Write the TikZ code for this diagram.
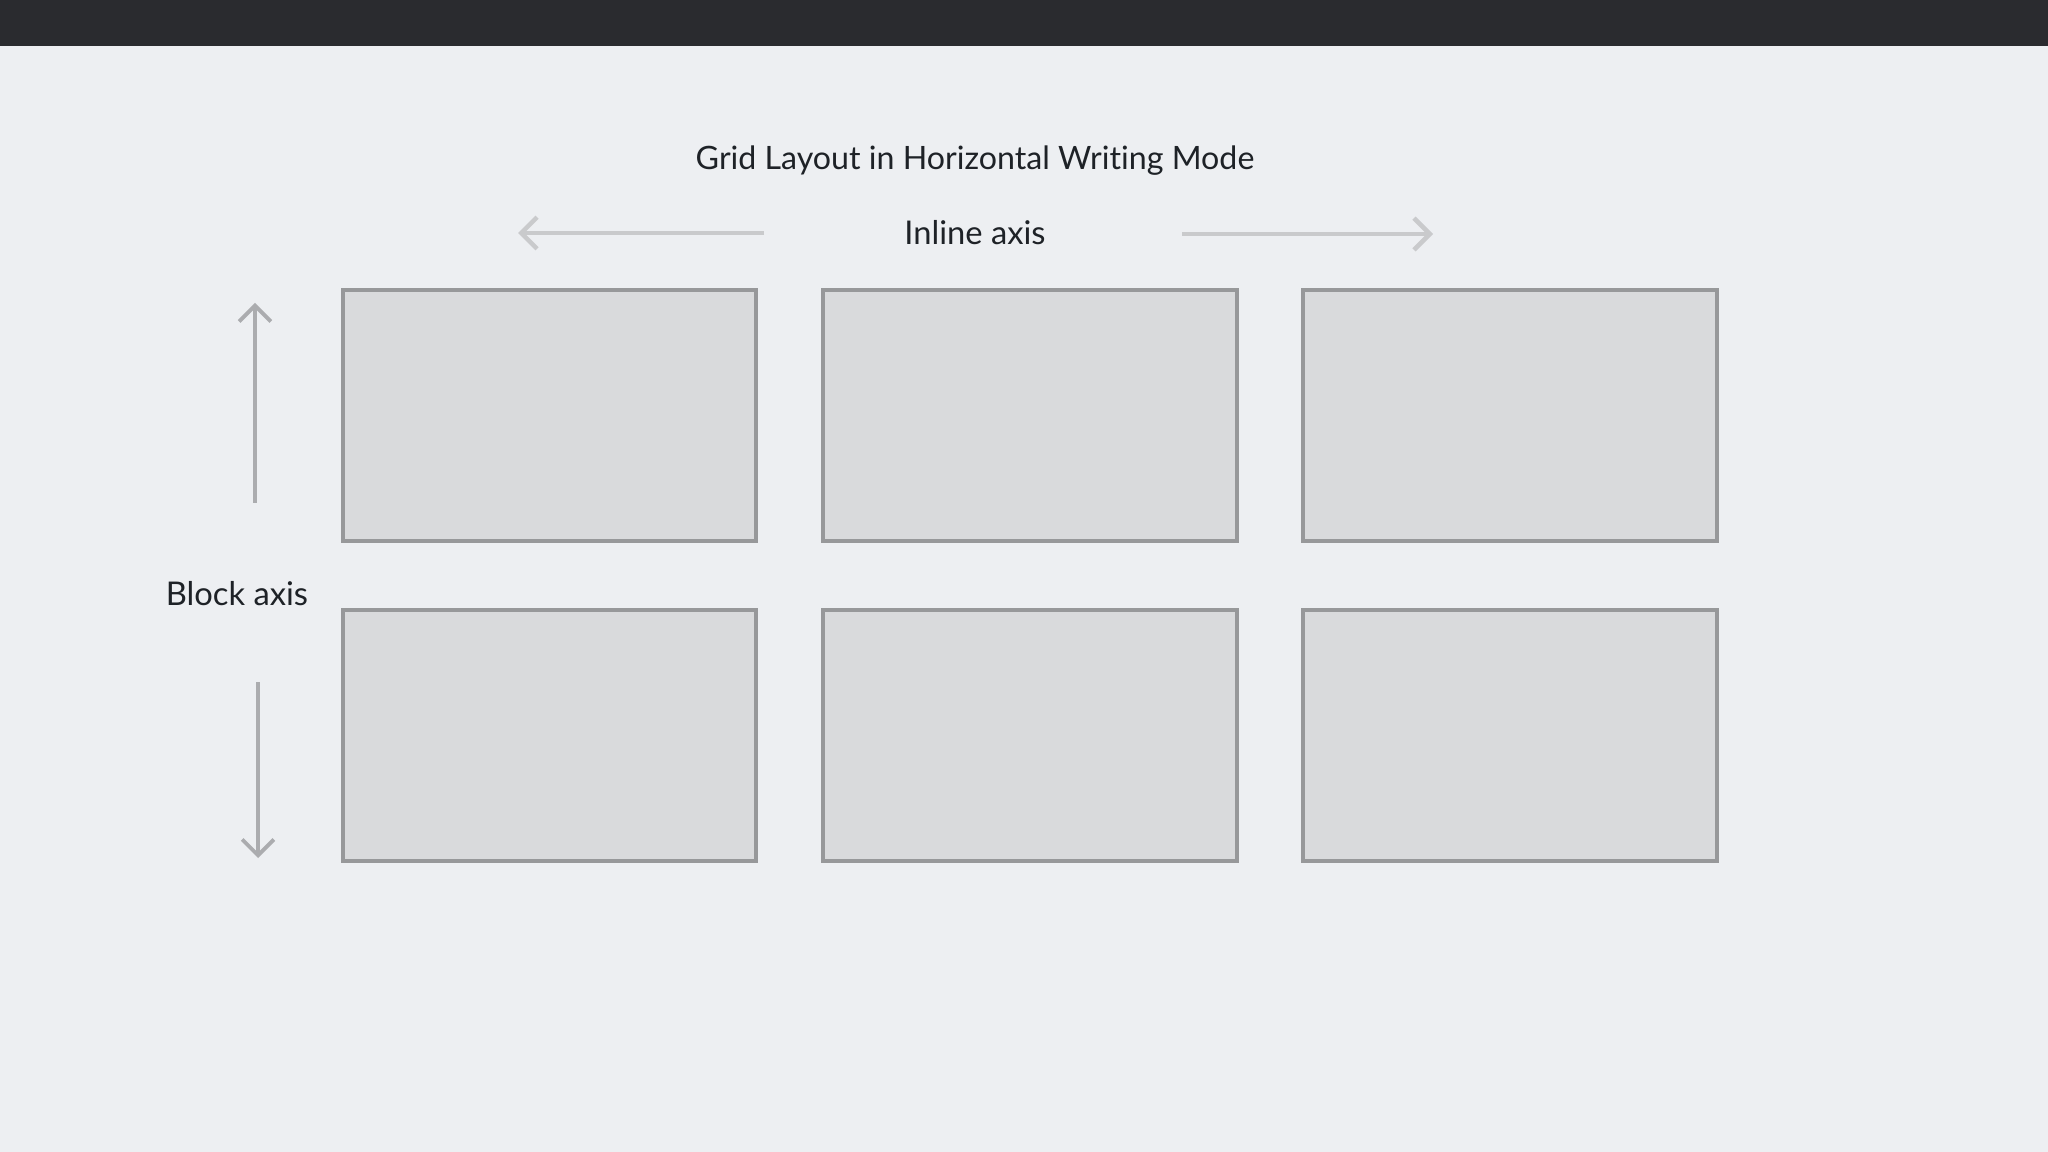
\documentclass[tikz,border=0pt]{standalone}
\usepackage{xcolor}
\usepackage{fontspec}
\setmainfont{Lato}[Ligatures=NoCommon]
\usepackage{tikz}
\usetikzlibrary{arrows.meta}

\definecolor{barcol}{HTML}{2A2B2F}
\definecolor{bgcol}{HTML}{EDEFF2}
\definecolor{cellfill}{HTML}{D9DADC}
\definecolor{celldraw}{HTML}{97989A}
\definecolor{inkcol}{HTML}{1E2227}
\definecolor{hcol}{HTML}{C9CACC}
\definecolor{vcol}{HTML}{ABACAF}

\begin{document}
\begin{tikzpicture}[x=0.01cm,y=-0.01cm,
    cell/.style={draw=celldraw,fill=cellfill,line width=1.1pt,minimum width=4.13cm,minimum height=2.51cm,inner sep=0pt},
    lbl/.style={text=inkcol,font=\fontsize{9.3pt}{11pt}\selectfont,inner sep=0pt},
    haxis/.style={draw=hcol,line width=1.3pt,-{Straight Barb[length=4.5pt,width=9pt]}},
    vaxis/.style={draw=vcol,line width=1.1pt,-{Straight Barb[length=4.5pt,width=9pt]}}]
    % page and top bar
    \fill[bgcol] (0,0) rectangle (2048,1152);
    \fill[barcol] (0,0) rectangle (2048,46);
    \useasboundingbox (0,0) rectangle (2048,1152);
    % labels
    \node[lbl,font=\fontsize{9.15pt}{11pt}\selectfont](title) at (975,161){Grid Layout in Horizontal Writing Mode};
    \node[lbl](inline) at (975,233){Inline axis};
    \node[lbl](block) at (237,594){Block axis};
    % grid cells
    \node[cell](c11) at (549.5,415.5){};
    \node[cell](c12) at (1030,415.5){};
    \node[cell](c13) at (1510,415.5){};
    \node[cell](c21) at (549.5,735.5){};
    \node[cell](c22) at (1030,735.5){};
    \node[cell](c23) at (1510,735.5){};
    % axis arrows
    \coordinate (lfrom) at (764,233);
    \coordinate (lto) at (518,233);
    \coordinate (rfrom) at (1182,234);
    \coordinate (rto) at (1433,234);
    \coordinate (ufrom) at (255,503);
    \coordinate (uto) at (255,303);
    \coordinate (dfrom) at (258,682);
    \coordinate (dto) at (258,858);
    \draw[haxis] (lfrom) -- (lto);
    \draw[haxis] (rfrom) -- (rto);
    \draw[vaxis] (ufrom) -- (uto);
    \draw[vaxis] (dfrom) -- (dto);
\end{tikzpicture}
\end{document}
